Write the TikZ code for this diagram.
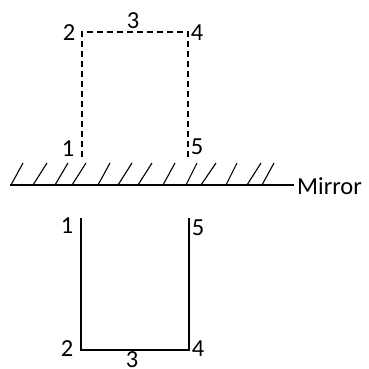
\documentclass[tikz,border=0pt]{standalone}
\usepackage{fontspec}
\setmainfont{Carlito}
\begin{document}
\begin{tikzpicture}[x=1pt,y=-1pt,
  lbl/.style={inner sep=0pt,font=\fontsize{24.5}{24.5}\selectfont},
  virt/.style={line width=1.1pt,dash pattern=on 6pt off 4pt},
  real/.style={line width=1.2pt},
  hatch/.style={line width=1.1pt}]
\useasboundingbox (0,0) rectangle (368,369);
\fill[white] (0,0) rectangle (368,369);
% image (dashed)
\coordinate (i1) at (82,157);
\coordinate (i2) at (82,32);
\coordinate (i4) at (188,32);
\coordinate (i5) at (188,157);
\draw[virt] (i1) -- (i2) -- (i4) -- (i5);
% object (solid)
\coordinate (o1) at (81,218);
\coordinate (o2) at (81,350);
\coordinate (o4) at (189,350);
\coordinate (o5) at (189,218);
\draw[real] (o1) -- (o2) -- (o4) -- (o5);
% mirror
\coordinate (mL) at (10,185);
\coordinate (mR) at (294,185);
\draw[real] (mL) -- (mR);
\foreach \a/\b in {11/23,33/47,55/68,72/86,98/110,118/132,138/152,163/175,186/197,201/216,226/237,247/261,262/274}
  \draw[hatch] (\a,185) -- (\b,163);
\node[lbl,anchor=west] (mirror) at (297,186) {Mirror};
% labels image
\node[lbl] (l2a) at (69,33) {2};
\node[lbl] (l3a) at (133,21) {3};
\node[lbl] (l4a) at (197,33) {4};
\node[lbl] (l1a) at (68,149) {1};
\node[lbl] (l5a) at (197,147) {5};
% labels object
\node[lbl] (l1b) at (67,226) {1};
\node[lbl] (l5b) at (198,228) {5};
\node[lbl] (l2b) at (67,349) {2};
\node[lbl] (l4b) at (198,349) {4};
\node[lbl] (l3b) at (132,360) {3};
\end{tikzpicture}
\end{document}
